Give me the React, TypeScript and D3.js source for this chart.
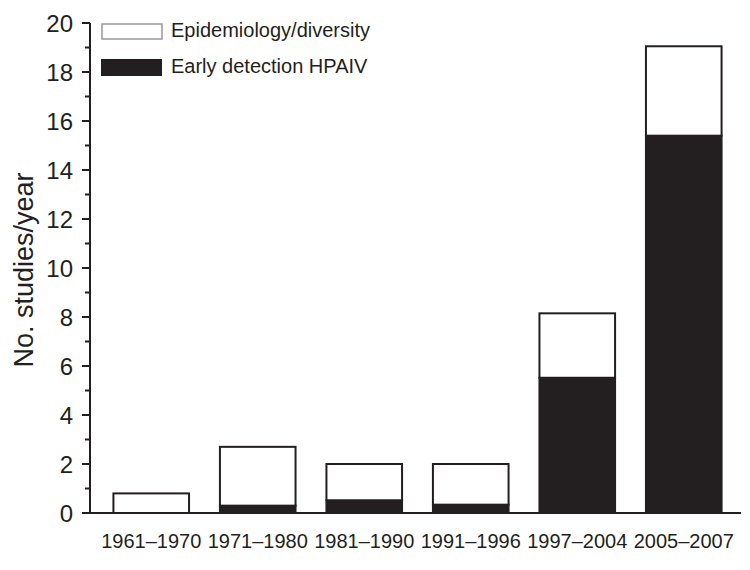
import React, { useEffect, useRef } from "react"
import * as d3 from "d3"

const periods = ["1961–1970", "1971–1980", "1981–1990", "1991–1996", "1997–2004", "2005–2007"]
const earlyDetection = [0, 0.3, 0.52, 0.34, 5.52, 15.4]
const epidemiology = [0.8, 2.4, 1.48, 1.66, 2.63, 3.65]
const yTicks = [0, 2, 4, 6, 8, 10, 12, 14, 16, 18, 20]
const legendLabels = ["Epidemiology/diversity", "Early detection HPAIV"]

const INK = "#231f20"
const FONT = "Liberation Sans, Arial, sans-serif"

const drawChart = (wrapper: SVGSVGElement) => {
  const svg = d3.select(wrapper)
  svg.selectAll("*").remove()

  const x = d3
    .scaleBand<string>()
    .domain(periods)
    .range([90, 745])
    .paddingInner(0.29)
    .paddingOuter(0.22)
  const y = d3.scaleLinear().domain([0, 20]).range([513, 23])

  const rows = periods.map((p, i) => ({ period: p, early: earlyDetection[i], epi: epidemiology[i] }))
  const stacked = d3.stack<any>().keys(["early", "epi"])(rows)
  const fills: Record<string, string> = { early: INK, epi: "#fff" }

  svg
    .selectAll("g.layer")
    .data(stacked)
    .enter()
    .append("g")
    .attr("class", "layer")
    .attr("fill", d => fills[d.key])
    .selectAll("rect")
    .data(d => d.filter(s => s[1] - s[0] > 0))
    .enter()
    .append("rect")
    .attr("x", d => x(d.data.period)!)
    .attr("width", x.bandwidth())
    .attr("y", d => y(d[1]))
    .attr("height", d => y(d[0]) - y(d[1]))
    .attr("stroke", INK)
    .attr("stroke-width", 2)

  // y axis: labelled ticks every 2, minor ticks in between
  const yAxis = svg.append("g")
  yAxis
    .append("line")
    .attr("x1", 90)
    .attr("x2", 90)
    .attr("y1", y(20))
    .attr("y2", y(0))
    .attr("stroke", INK)
    .attr("stroke-width", 2)
  yAxis
    .selectAll("line.major")
    .data(yTicks)
    .enter()
    .append("line")
    .attr("x1", 82)
    .attr("x2", 90)
    .attr("y1", d => y(d))
    .attr("y2", d => y(d))
    .attr("stroke", INK)
    .attr("stroke-width", 2)
  yAxis
    .selectAll("line.minor")
    .data(yTicks.slice(0, -1).map(d => d + 1))
    .enter()
    .append("line")
    .attr("x1", 85)
    .attr("x2", 90)
    .attr("y1", d => y(d))
    .attr("y2", d => y(d))
    .attr("stroke", INK)
    .attr("stroke-width", 2)
  yAxis
    .selectAll("text")
    .data(yTicks)
    .enter()
    .append("text")
    .attr("x", 73)
    .attr("y", d => y(d) + 8.5)
    .attr("text-anchor", "end")
    .style("font-family", FONT)
    .style("font-size", "24px")
    .attr("fill", INK)
    .text(d => d)

  svg
    .append("text")
    .attr("transform", "translate(33," + (y(10) + 2) + ") rotate(-90)")
    .attr("text-anchor", "middle")
    .style("font-family", FONT)
    .style("font-size", "27px")
    .attr("fill", INK)
    .text("No. studies/year")

  // x axis
  svg
    .append("line")
    .attr("x1", 89)
    .attr("x2", 741)
    .attr("y1", y(0))
    .attr("y2", y(0))
    .attr("stroke", INK)
    .attr("stroke-width", 2)
  svg
    .selectAll("text.period")
    .data(periods)
    .enter()
    .append("text")
    .attr("class", "period")
    .attr("x", d => x(d)! + x.bandwidth() / 2)
    .attr("y", 547.5)
    .attr("text-anchor", "middle")
    .style("font-family", FONT)
    .style("font-size", "20px")
    .attr("fill", INK)
    .text(d => d)

  // legend
  const legend = svg.append("g")
  legend
    .append("rect")
    .attr("x", 102)
    .attr("y", 24)
    .attr("width", 60)
    .attr("height", 15)
    .attr("fill", "#fff")
    .attr("stroke", "#999")
    .attr("stroke-width", 1.5)
  legend
    .append("rect")
    .attr("x", 101)
    .attr("y", 59)
    .attr("width", 61)
    .attr("height", 17)
    .attr("fill", INK)
  legend
    .selectAll("text")
    .data(legendLabels)
    .enter()
    .append("text")
    .attr("x", 171)
    .attr("y", (d, i) => 37 + i * 36)
    .style("font-family", FONT)
    .style("font-size", "20px")
    .attr("fill", INK)
    .text(d => d)
}

export default function App() {
  const ref = useRef<SVGSVGElement>(null)
  useEffect(() => {
    document.body.style.margin = "0"
    if (ref.current) drawChart(ref.current)
  }, [])

  return <svg ref={ref} width={750} height={570} style={{ display: "block", background: "#fff" }}></svg>
}
